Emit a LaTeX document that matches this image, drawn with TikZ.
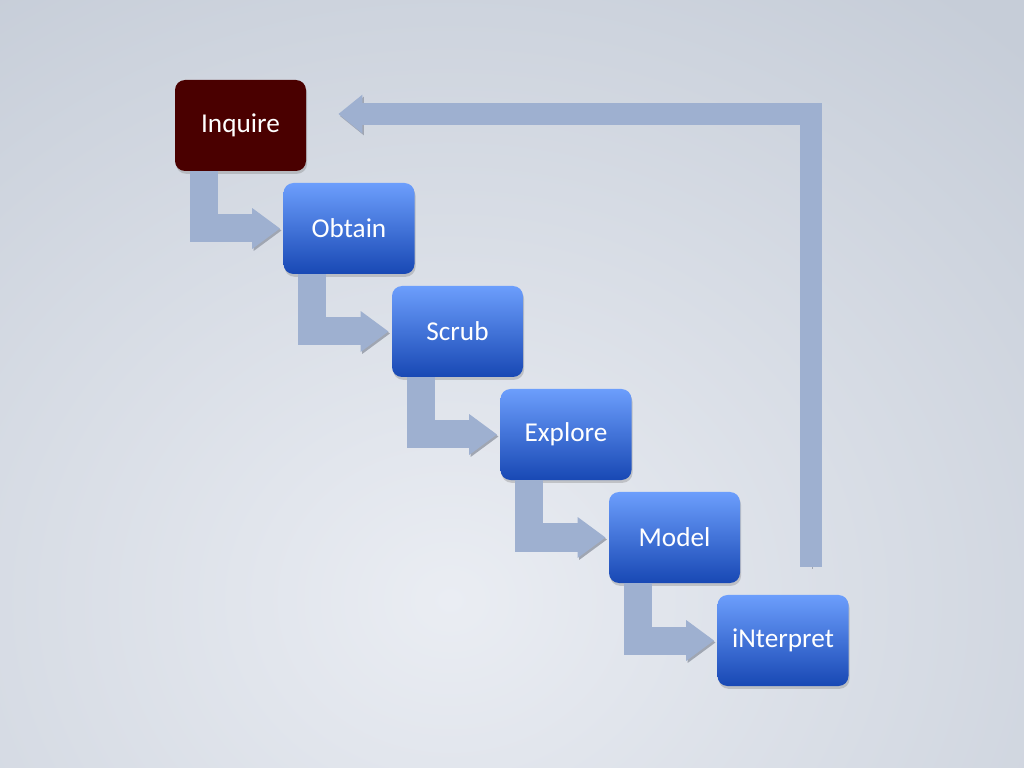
\documentclass[tikz,border=0pt]{standalone}
\usepackage{fontspec}
\setmainfont{Carlito}
\usetikzlibrary{arrows.meta, positioning, shadows}

\definecolor{boxtop}{RGB}{108,158,252}
\definecolor{boxbottom}{RGB}{24,72,180}
\definecolor{inqred}{RGB}{74,0,0}
\definecolor{flowblue}{RGB}{158,176,208}
\definecolor{flowshade}{RGB}{160,166,178}
\definecolor{bginner}{RGB}{234,237,243}
\definecolor{bgouter}{RGB}{198,205,216}

\begin{document}
\begin{tikzpicture}[node distance=2.06cm and 2.17cm, on grid]
        % Define block styles
        \tikzstyle{stage} = [rectangle, rounded corners=0.2cm, minimum width=2.62cm, minimum height=1.82cm, text centered, text=white, top color=boxtop, bottom color=boxbottom, drop shadow={shadow xshift=0.6pt, shadow yshift=-1.6pt, opacity=0.35}, font=\fontsize{15.5}{18}\selectfont]
        \tikzstyle{start} = [stage, top color=inqred, bottom color=inqred]
        \tikzstyle{flow} = [draw=flowblue, line width=0.56cm, -{Triangle[length=0.56cm, width=0.78cm]}, shorten >=0.06cm, preaction={draw=flowshade, transform canvas={xshift=0.03cm, yshift=-0.04cm}}]
        \tikzstyle{feedback} = [flow, line width=0.44cm, -{Triangle[length=0.48cm, width=0.74cm]}, shorten >=0cm]

        % Background
        \useasboundingbox (0,0) rectangle (20.48,-15.36);
        \begin{scope}
            \clip (0,0) rectangle (20.48,-15.36);
            \shade [inner color=bginner, outer color=bgouter] (-8,3) rectangle (26,-27);
        \end{scope}

        % Nodes
        \node (input) [start] at (4.81,-2.51) {Inquire};
        \node (obtain) [stage, below right=of input] {Obtain};
        \node (scrub) [stage, below right=of obtain] {Scrub};
        \node (explore) [stage, below right=of scrub] {Explore};
        \node (model) [stage, below right=of explore] {Model};
        \node (interpret) [stage, below right=of model] {iNterpret};

        % Arrows
        \draw [flow] ([xshift=0.58cm]input.south west) |- (obtain.west);
        \draw [flow] ([xshift=0.58cm]obtain.south west) |- (scrub.west);
        \draw [flow] ([xshift=0.58cm]scrub.south west) |- (explore.west);
        \draw [flow] ([xshift=0.58cm]explore.south west) |- (model.west);
        \draw [flow] ([xshift=0.58cm]model.south west) |- (interpret.west);

        % The Feedback Loop
        \coordinate (back) at ([xshift=-0.76cm, yshift=0.56cm]interpret.north east);
        \draw [feedback] (back) |- ([xshift=0.64cm, yshift=0.23cm]input.east);
\end{tikzpicture}
\end{document}
